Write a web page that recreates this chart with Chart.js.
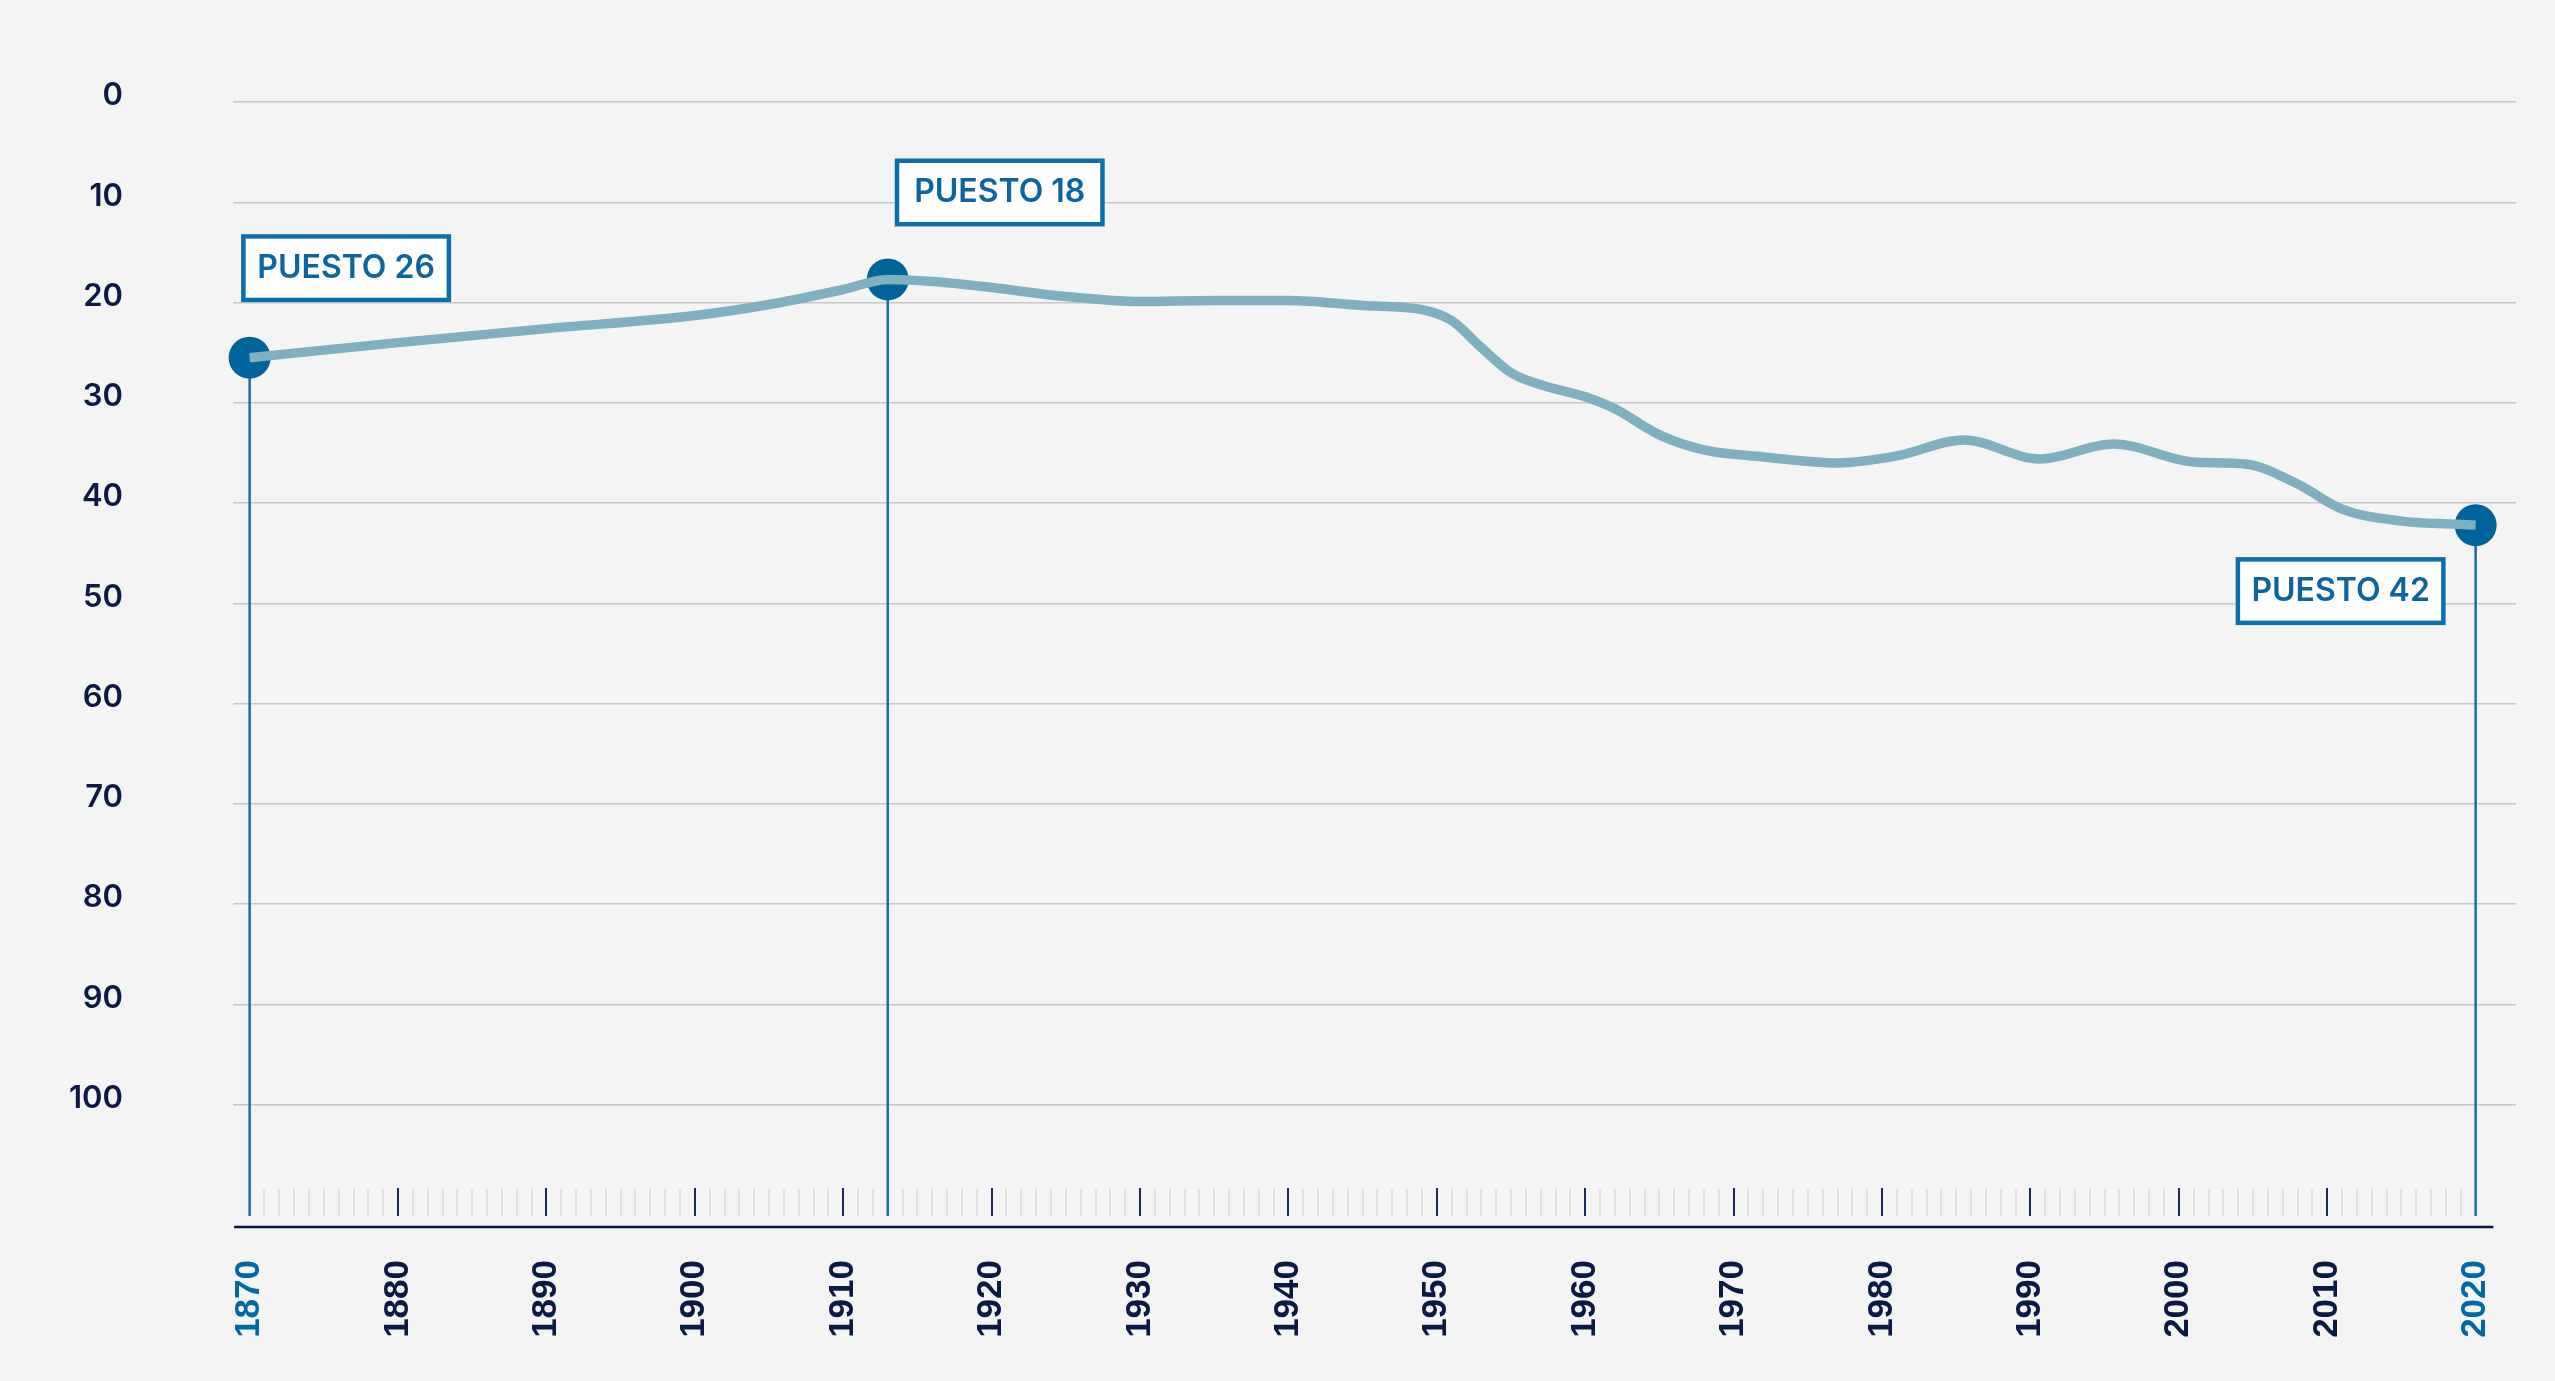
<!DOCTYPE html>
<html lang="es">
<head>
    <meta charset="UTF-8">
    <title>Puesto en el ranking 1870-2020</title>
    <script src="https://cdn.jsdelivr.net/npm/chart.js"></script>
    <style>
        html, body { margin: 0; padding: 0; background: #f4f4f4; }
        .chart-box { width: 2555px; height: 1381px; }
    </style>
</head>
<body>
    <div class="chart-box">
        <canvas id="rankChart"></canvas>
    </div>

    <script>
        // Datos
        const years = [1870, 1880, 1890, 1900, 1905, 1910, 1913, 1916, 1920, 1925, 1930, 1935, 1940, 1945, 1949,
            1951, 1953, 1955, 1957, 1960, 1962, 1965, 1968, 1972, 1977, 1981, 1985.5, 1990.6, 1995.6, 2001,
            2004.5, 2008, 2011, 2015, 2018.5, 2020];
        const ranks = [25.5, 24.0, 22.6, 21.3, 20.2, 18.7, 17.7, 17.9, 18.5, 19.4, 19.9, 19.8, 19.8, 20.3, 20.7,
            21.8, 24.5, 27.0, 28.2, 29.4, 30.6, 33.2, 34.7, 35.4, 36.0, 35.3, 33.7, 35.6, 34.1, 35.9,
            36.1, 38.1, 40.6, 41.8, 42.1, 42.2];

        // Puntos destacados
        const highlightYears = [1870, 1913, 2020];
        const highlightRanks = [25.5, 17.7, 42.2];
        const highlightLabels = ['PUESTO 26', 'PUESTO 18', 'PUESTO 42'];

        // Etiquetas de los ejes
        const xTickYears = [1870, 1880, 1890, 1900, 1910, 1920, 1930, 1940, 1950, 1960, 1970, 1980, 1990, 2000, 2010, 2020];
        const yTickValues = [0, 10, 20, 30, 40, 50, 60, 70, 80, 90, 100];

        const navy = '#0b1a45';
        const blue = '#00639b';
        const lineBlue = '#1a6ea5';

        // posicion de cada caja respecto a su punto (esquina superior izquierda)
        const boxPlacement = [
            { dx: -8.5, dy: -123.5 },
            { dx: 7, dy: -121 },
            { dx: -240, dy: 32 }
        ];

        // Marcas anuales, linea del eje y lineas verticales de los puntos
        const axisDecor = {
            id: 'axisDecor',
            beforeDatasetsDraw(chart) {
                const ctx = chart.ctx;
                const x = chart.scales.x;
                const yBottom = chart.chartArea.bottom;
                ctx.save();
                for (let yr = 1871; yr < 2020; yr++) {
                    const px = Math.round(x.getPixelForValue(yr));
                    const major = yr % 10 === 0;
                    ctx.strokeStyle = major ? '#1d2b5c' : '#d9d9d9';
                    ctx.lineWidth = major ? 2 : 1.5;
                    ctx.beginPath();
                    ctx.moveTo(px, yBottom - (major ? 39 : 38));
                    ctx.lineTo(px, yBottom - 11);
                    ctx.stroke();
                }
                // linea del eje
                ctx.strokeStyle = navy;
                ctx.lineWidth = 2.5;
                ctx.beginPath();
                ctx.moveTo(x.getPixelForValue(1868.95), yBottom);
                ctx.lineTo(x.getPixelForValue(2021.2), yBottom);
                ctx.stroke();
                // lineas verticales desde los puntos destacados
                const meta = chart.getDatasetMeta(1);
                ctx.strokeStyle = lineBlue;
                ctx.lineWidth = 2.5;
                meta.data.forEach(pt => {
                    ctx.beginPath();
                    ctx.moveTo(pt.x, pt.y);
                    ctx.lineTo(pt.x, yBottom - 11);
                    ctx.stroke();
                });
                ctx.restore();
            },
            afterDatasetsDraw(chart) {
                const ctx = chart.ctx;
                const meta = chart.getDatasetMeta(1);
                ctx.save();
                ctx.font = '600 32px Inter';
                meta.data.forEach((pt, i) => {
                    const w = 210, h = 68, bw = 4.5;
                    const bx = pt.x + boxPlacement[i].dx;
                    const by = pt.y + boxPlacement[i].dy;
                    ctx.fillStyle = '#ffffff';
                    ctx.fillRect(bx, by, w, h);
                    ctx.strokeStyle = '#0a6fab';
                    ctx.lineWidth = bw;
                    ctx.strokeRect(bx + bw / 2, by + bw / 2, w - bw, h - bw);
                    ctx.fillStyle = '#0d64a0';
                    ctx.textAlign = 'center';
                    ctx.textBaseline = 'middle';
                    ctx.fillText(highlightLabels[i], bx + w / 2, by + h / 2);
                });
                ctx.restore();
            }
        };

        const ctx = document.getElementById('rankChart').getContext('2d');
        new Chart(ctx, {
            type: 'line',
            data: {
                datasets: [{
                    label: 'Puesto',
                    data: years.map((yr, i) => ({ x: yr, y: ranks[i] })),
                    borderColor: '#7eb0bf',
                    borderWidth: 9.5,
                    pointRadius: 0,
                    cubicInterpolationMode: 'monotone',
                    fill: false,
                    clip: false
                }, {
                    label: 'Destacados',
                    data: highlightYears.map((yr, i) => ({ x: yr, y: highlightRanks[i] })),
                    showLine: false,
                    pointRadius: 21,
                    pointBackgroundColor: blue,
                    pointBorderWidth: 0,
                    clip: false
                }]
            },
            options: {
                responsive: true,
                maintainAspectRatio: false,
                animation: false,
                layout: {
                    padding: { top: 102, right: 39, left: 0, bottom: 0 }
                },
                plugins: {
                    legend: { display: false },
                    tooltip: { enabled: false }
                },
                scales: {
                    x: {
                        type: 'linear',
                        min: 1868.88,
                        max: 2022.72,
                        afterBuildTicks: scale => { scale.ticks = xTickYears.map(v => ({ value: v })); },
                        afterFit: scale => { scale.height = 154; },
                        grid: { display: false, drawTicks: false },
                        border: { display: false },
                        ticks: {
                            autoSkip: false,
                            minRotation: 90,
                            maxRotation: 90,
                            padding: 33,
                            font: { family: 'Liberation Sans', size: 35, weight: 'bold' },
                            color: c => (c.tick && (c.tick.value === 1870 || c.tick.value === 2020)) ? '#0068a5' : navy,
                            callback: v => String(v)
                        }
                    },
                    y: {
                        reverse: true,
                        min: 0,
                        max: 112.2,
                        afterBuildTicks: scale => { scale.ticks = yTickValues.map(v => ({ value: v })); },
                        afterFit: scale => {
                            scale.width = 233;
                            scale.paddingTop = 0;
                            scale.paddingBottom = 0;
                        },
                        grid: { color: '#c6c6c6', lineWidth: 1.5, drawTicks: false },
                        border: { display: false },
                        ticks: {
                            padding: 110,
                            labelOffset: -6,
                            font: { family: 'Inter', size: 31, weight: '600' },
                            color: navy
                        }
                    }
                }
            },
            plugins: [axisDecor]
        });
    </script>
</body>
</html>
